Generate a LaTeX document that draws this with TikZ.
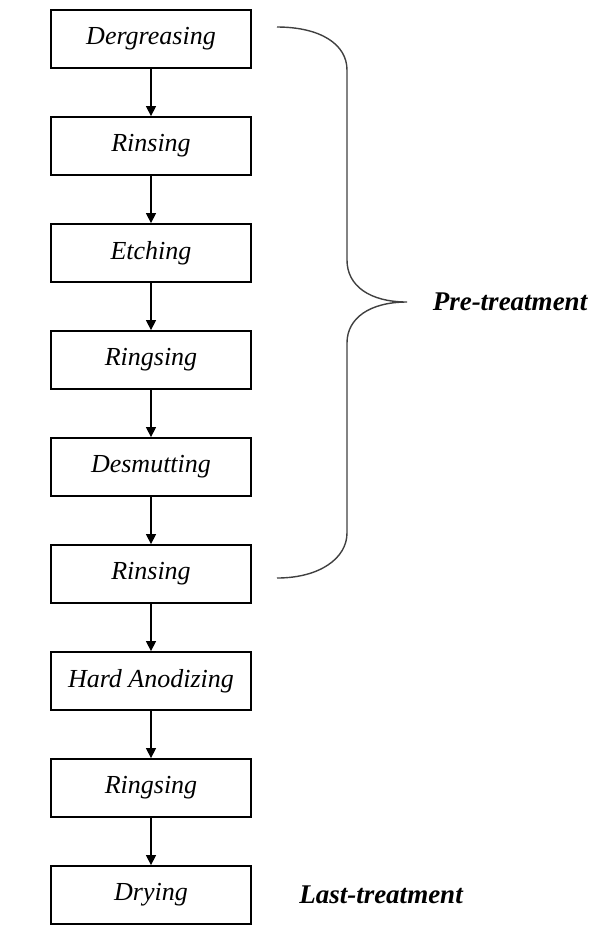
\documentclass[tikz,border=0pt]{standalone}
\usepackage{fontspec}
\setmainfont{Liberation Serif}
\usetikzlibrary{arrows.meta}

\begin{document}
\begin{tikzpicture}[node distance=53.5pt]
\tikzstyle{process} = [rectangle, minimum width=100pt, minimum height=29pt, text centered, draw=black, line width=0.9pt, font=\fontsize{13}{15}\selectfont\itshape]
\tikzstyle{stage} = [font=\fontsize{13.5}{16}\selectfont\bfseries\itshape]
\tikzstyle{arrow} = [line width=0.7pt,->,>={Triangle[length=5pt,width=5pt]}]
\tikzstyle{brace} = [line width=0.7pt, draw=black!75]
\useasboundingbox (0,0) rectangle (294.5pt,-467pt);
 % process boxes
\node (deg) [process] at (75.5pt,-19.5pt) {Dergreasing};
\node (rin1) [process, below of=deg] {Rinsing};
\node (etch) [process, below of=rin1] {Etching};
\node (ring1) [process, below of=etch] {Ringsing};
\node (desm) [process, below of=ring1] {Desmutting};
\node (rin2) [process, below of=desm] {Rinsing};
\node (anod) [process, below of=rin2] {Hard Anodizing};
\node (ring2) [process, below of=anod] {Ringsing};
\node (dry) [process, below of=ring2] {Drying};
\coordinate (tip) at (203.5pt,-151pt);
\node (pre) [stage, right of=tip, xshift=-2pt] {Pre-treatment};
\node (last) [stage, right of=dry, xshift=61.5pt] {Last-treatment};

 % connections
\draw [arrow](deg) -- (rin1);
\draw [arrow](rin1) -- (etch);
\draw [arrow](etch) -- (ring1);
\draw [arrow](ring1) -- (desm);
\draw [arrow](desm) -- (rin2);
\draw [arrow](rin2) -- (anod);
\draw [arrow](anod) -- (ring2);
\draw [arrow](ring2) -- (dry);

 % brace
\draw [brace] (138.5pt,-13.5pt) .. controls (160pt,-13.5pt) and (173.5pt,-22pt) .. (173.5pt,-35pt)
  -- (173.5pt,-130pt) .. controls (173.5pt,-143pt) and (185pt,-151pt) .. (tip)
  .. controls (185pt,-151pt) and (173.5pt,-159pt) .. (173.5pt,-171.5pt)
  -- (173.5pt,-266.5pt) .. controls (173.5pt,-279pt) and (160pt,-289pt) .. (138.5pt,-289pt);
\end{tikzpicture}
\end{document}
